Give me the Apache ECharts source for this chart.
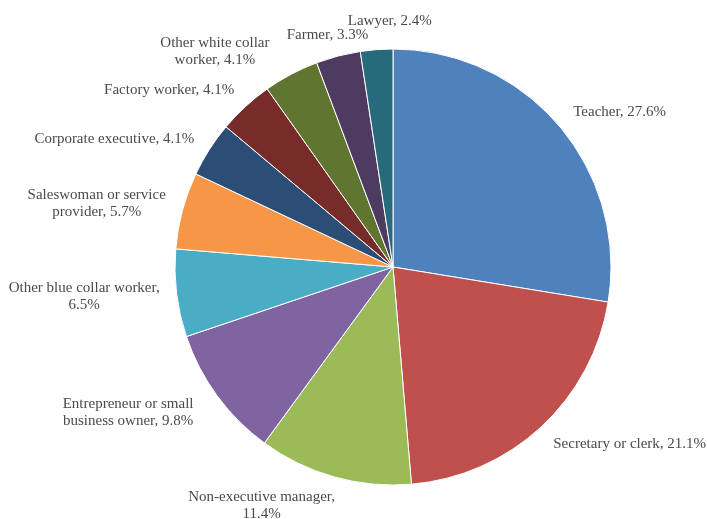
<!DOCTYPE html>
<html>
<head>
<meta charset="utf-8">
<script src="https://cdn.jsdelivr.net/npm/echarts@6/dist/echarts.min.js"></script>
<style>html,body{margin:0;padding:0;background:#fff;}#c{width:707px;height:519px;}</style>
</head>
<body>
<div id="c"></div>
<script>
// ---- data ----
var categories = ['Teacher', 'Secretary or clerk', 'Non-executive manager', 'Entrepreneur or small business owner', 'Other blue collar worker', 'Saleswoman or service provider', 'Corporate executive', 'Factory worker', 'Other white collar worker', 'Farmer', 'Lawyer'];
var values = [27.6, 21.1, 11.4, 9.8, 6.5, 5.7, 4.1, 4.1, 4.1, 3.3, 2.4];
// label lines as displayed (first line / second line)
var labelLine1 = ['Teacher, {v}%', 'Secretary or clerk, {v}%', 'Non-executive manager,', 'Entrepreneur or small', 'Other blue collar worker,', 'Saleswoman or service', 'Corporate executive, {v}%', 'Factory worker, {v}%', 'Other white collar', 'Farmer, {v}%', 'Lawyer, {v}%'];
var labelLine2 = ['', '', '{v}%', 'business owner, {v}%', '{v}%', 'provider, {v}%', '', '', 'worker, {v}%', '', ''];

// ---- styling ----
var colors = ['#4F81BD', '#C0504D', '#9BBB59', '#8064A2', '#4BACC6', '#F79646', '#2C4D75', '#772C2A', '#5F7530', '#4D3B62', '#276A7C'];
var labelShift = [[0, -6], [-1, 8], [9, 17], [-9, 10], [0, 2], [0, -4], [0, -4], [2, -8], [-11, -12], [38, -9], [61, -17]];

var chart = echarts.init(document.getElementById('c'), null, {renderer: 'canvas'});
var data = categories.map(function (c, i) {
  return {name: c, value: values[i], itemStyle: {color: colors[i]}};
});
chart.setOption({
  animation: false,
  series: [{
    type: 'pie',
    center: [393, 267],
    radius: 218,
    startAngle: 90,
    clockwise: true,
    avoidLabelOverlap: false,
    data: data,
    itemStyle: {borderColor: '#ffffff', borderWidth: 1},
    emphasis: {disabled: true},
    label: {
      show: true,
      position: 'outside',
      distanceToLabelLine: 5,
      formatter: function (p) {
        var i = p.dataIndex;
        var a = labelLine1[i].replace('{v}', p.value);
        var b = labelLine2[i].replace('{v}', p.value);
        return b ? '{t|' + a + '}\n{t|' + b + '}' : '{t|' + a + '}';
      },
      rich: {
        t: {align: 'center', fontFamily: 'Liberation Serif', fontSize: 15, color: '#4a4a4a', lineHeight: 17}
      }
    },
    labelLine: {show: false, length: 12, length2: 0},
    labelLayout: function (p) {
      var s = labelShift[p.dataIndex];
      return {dx: s[0], dy: s[1]};
    }
  }]
});
</script>
</body>
</html>
